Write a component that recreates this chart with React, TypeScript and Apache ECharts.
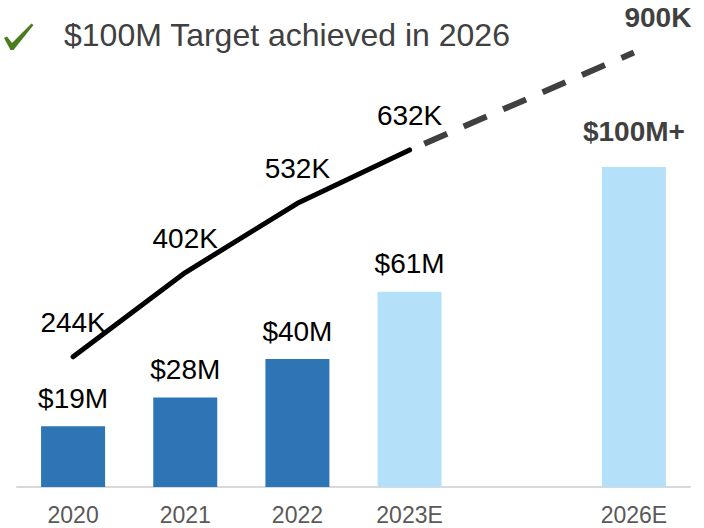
import React, { useEffect, useRef } from "react";
import * as echarts from "echarts";

// ---- data ----
const categories = ["2020", "2021", "2022", "2023E", "", "2026E"];
const revenue: (number | null)[] = [19, 28, 40, 61, null, 100]; // $M
const revenueLabels = ["$19M", "$28M", "$40M", "$61M", "", "$100M+"];
const users: (number | null)[] = [244, 402, 532, 632, null, null]; // K
const usersProjection: (number | null)[] = [null, null, null, 632, null, 900]; // K
const titleText = "$100M Target achieved in 2026";

const FONT = "'Liberation Sans', Arial, sans-serif";
const DARK_BLUE = "#2e75b6";
const LIGHT_BLUE = "#b4e0fa";
const DARK_GREY = "#404040";

export default function App() {
  const ref = useRef<HTMLDivElement>(null);

  useEffect(() => {
    if (!ref.current) return;
    const chart = echarts.init(ref.current, undefined, { renderer: "svg" });
    const targetIndex = revenueLabels.length - 1;

    const option: any = {
      animation: false,
      backgroundColor: "#ffffff",
      grid: { left: 17, right: 14, top: 7, bottom: 41 },
      xAxis: {
        type: "category",
        data: categories,
        axisLine: { show: true, lineStyle: { color: "#d9d9d9", width: 2 } },
        axisTick: { show: false },
        axisLabel: { fontSize: 23, color: "#595959", margin: 16, fontFamily: FONT },
      },
      yAxis: [
        { type: "value", min: 0, max: 150, show: false },
        { type: "value", min: 0, max: 900, show: false },
        { type: "value", min: -294, max: 1025, show: false },
      ],
      graphic: [
        {
          type: "polygon",
          shape: {
            points: [
              [4, 38],
              [7, 36.5],
              [12, 43],
              [31.5, 23.5],
              [33.5, 25],
              [13.5, 50],
              [10.5, 50],
            ],
          },
          style: { fill: "#4a7c1f" },
        },
        {
          type: "text",
          x: 64,
          y: 35,
          style: {
            text: titleText,
            font: `32px ${FONT}`,
            fill: DARK_GREY,
            verticalAlign: "middle",
            align: "left",
          },
        },
      ],
      series: [
        {
          type: "bar",
          yAxisIndex: 0,
          barWidth: 64,
          data: revenue.map((v, i) =>
            v == null
              ? null
              : {
                  value: v,
                  itemStyle: { color: categories[i].endsWith("E") ? LIGHT_BLUE : DARK_BLUE },
                  label:
                    i === targetIndex
                      ? { fontWeight: "bold", color: DARK_GREY, distance: 22 }
                      : undefined,
                }
          ),
          label: {
            show: true,
            position: "top",
            distance: 14,
            fontSize: 28,
            fontFamily: FONT,
            color: "#000000",
            formatter: (p: any) => revenueLabels[p.dataIndex],
          },
        },
        {
          type: "line",
          yAxisIndex: 1,
          data: users,
          showSymbol: true,
          symbol: "circle",
          symbolSize: 1,
          itemStyle: { color: "rgba(0,0,0,0)" },
          lineStyle: { color: "#000000", width: 5, cap: "round", join: "round" },
          label: {
            show: true,
            position: "top",
            distance: 20,
            fontSize: 28,
            fontFamily: FONT,
            color: "#000000",
            formatter: (p: any) => `${p.value}K`,
          },
        },
        {
          type: "line",
          yAxisIndex: 2,
          data: usersProjection,
          connectNulls: true,
          showSymbol: true,
          symbol: "circle",
          symbolSize: 1,
          itemStyle: { color: "rgba(0,0,0,0)" },
          lineStyle: {
            color: DARK_GREY,
            width: 6,
            type: [25, 18],
            dashOffset: 27,
            cap: "butt",
          },
          label: {
            show: true,
            position: "top",
            distance: 20,
            offset: [24, 0],
            fontSize: 28,
            fontWeight: "bold",
            fontFamily: FONT,
            color: DARK_GREY,
            formatter: (p: any) => (p.dataIndex === usersProjection.length - 1 ? `${p.value}K` : ""),
          },
        },
      ],
    };

    chart.setOption(option);
    return () => chart.dispose();
  }, []);

  return <div ref={ref} style={{ width: 704, height: 528, position: "absolute", left: 0, top: 0 }} />;
}
